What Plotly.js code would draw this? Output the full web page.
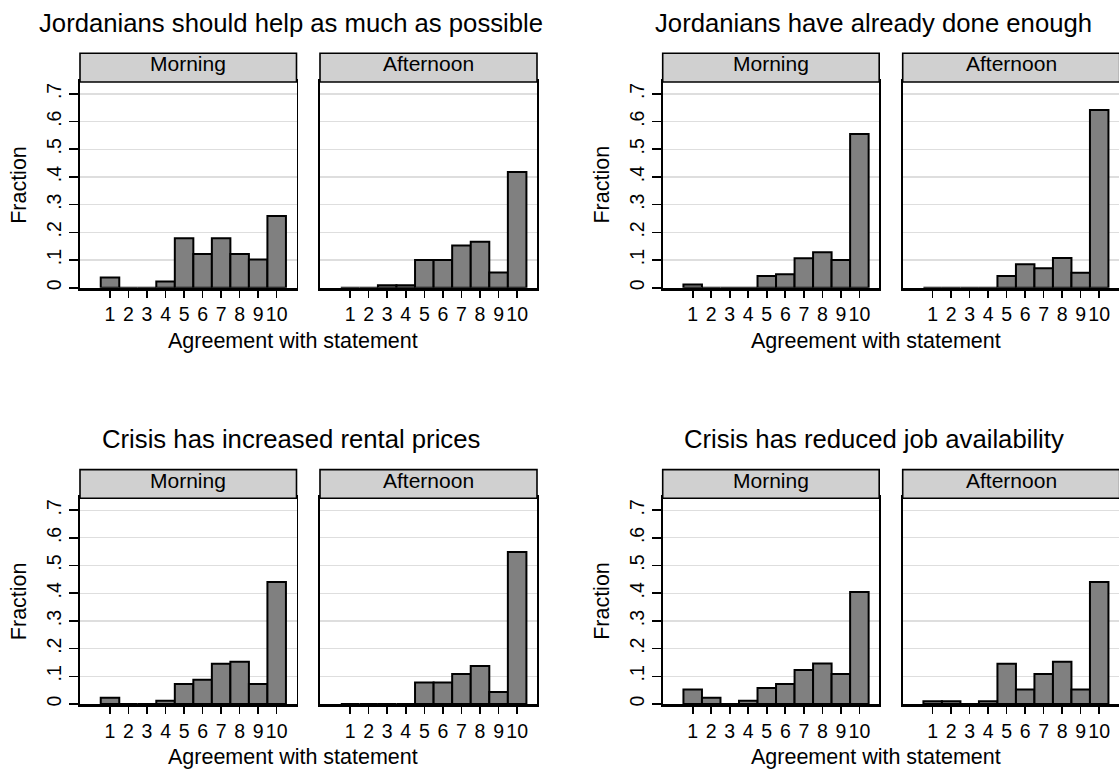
<!DOCTYPE html>
<html>
<head>
<meta charset="utf-8">
<script src="https://cdn.plot.ly/plotly-3.0.1.min.js"></script>
<style>
  html, body { margin: 0; padding: 0; background: #ffffff; }
  #chart { width: 1119px; height: 773px; }
</style>
</head>
<body>
<div id="chart"></div>
<script>
// ---------------- data ----------------
const categories = [1, 2, 3, 4, 5, 6, 7, 8, 9, 10];
const xTickLabels = ['1', '2', '3', '4', '5', '6', '7', '8', '9', '10'];
const yTickValues = [0, 0.1, 0.2, 0.3, 0.4, 0.5, 0.6, 0.7];
const yTickLabels = ['0', '.1', '.2', '.3', '.4', '.5', '.6', '.7'];
const sessions = ['Morning', 'Afternoon'];
const panelTitles = [
  'Jordanians should help as much as possible',
  'Jordanians have already done enough',
  'Crisis has increased rental prices',
  'Crisis has reduced job availability'
];
const xAxisTitle = 'Agreement with statement';
const yAxisTitle = 'Fraction';

const helpMorning    = [0.037, 0, 0, 0.022, 0.179, 0.122, 0.179, 0.122, 0.102, 0.259];
const helpAfternoon  = [0, 0, 0.009, 0.009, 0.100, 0.100, 0.152, 0.166, 0.055, 0.418];
const doneMorning    = [0.012, 0, 0, 0, 0.042, 0.049, 0.106, 0.128, 0.100, 0.555];
const doneAfternoon  = [0, 0, 0, 0, 0.042, 0.085, 0.070, 0.107, 0.054, 0.642];
const rentMorning    = [0.023, 0, 0, 0.012, 0.072, 0.088, 0.145, 0.153, 0.072, 0.441];
const rentAfternoon  = [0, 0, 0, 0, 0.078, 0.078, 0.108, 0.137, 0.043, 0.549];
const jobsMorning    = [0.052, 0.023, 0, 0.012, 0.058, 0.072, 0.123, 0.146, 0.108, 0.405];
const jobsAfternoon  = [0.010, 0.010, 0, 0.010, 0.145, 0.052, 0.108, 0.153, 0.052, 0.441];

const panelSeries = [
  [helpMorning, helpAfternoon],
  [doneMorning, doneAfternoon],
  [rentMorning, rentAfternoon],
  [jobsMorning, jobsAfternoon]
];

// ---------------- layout geometry (pixels) ----------------
const W = 1119, H = 773;
const px = v => v / W;
const py = v => 1 - v / H;
const FONT = '"Liberation Sans", Arial, Helvetica, sans-serif';

const colOffsets = [0, 582.7];
const rowOffsets = [0, 416.3];
const subX = [[80, 296.5], [320, 537]];   // morning / afternoon plot x extents (left column)
const plotTop = 82, plotBottom = 287.7;   // top row
const stripTop = 53.3;
const xRange = [-0.62, 11.07];
const yRange = [0, 0.743];

const traces = [];
const layout = {
  width: W, height: H, autosize: false,
  margin: {l: 0, r: 0, t: 0, b: 0, pad: 0},
  paper_bgcolor: '#ffffff', plot_bgcolor: '#ffffff',
  showlegend: false, bargap: 0,
  font: {family: FONT, color: '#000000'},
  shapes: [], annotations: []
};

let axisIndex = 0;
for (let p = 0; p < 4; p++) {
  const col = p % 2, row = Math.floor(p / 2);
  const ox = colOffsets[col], oy = rowOffsets[row];
  for (let s = 0; s < 2; s++) {
    axisIndex++;
    const xa = 'xaxis' + (axisIndex === 1 ? '' : axisIndex);
    const ya = 'yaxis' + (axisIndex === 1 ? '' : axisIndex);
    const xr = 'x' + (axisIndex === 1 ? '' : axisIndex);
    const yr = 'y' + (axisIndex === 1 ? '' : axisIndex);
    const x0 = subX[s][0] + ox, x1 = subX[s][1] + ox;
    const top = plotTop + oy, bottom = plotBottom + oy;

    traces.push({
      type: 'bar', x: categories, y: panelSeries[p][s],
      xaxis: xr, yaxis: yr, width: 1,
      marker: {color: '#808080', line: {color: '#000000', width: 2}},
      hoverinfo: 'skip'
    });

    layout[xa] = {
      domain: [px(x0), px(x1)], anchor: yr, range: xRange, fixedrange: true,
      tickmode: 'array', tickvals: categories, ticktext: xTickLabels,
      ticks: 'outside', ticklen: 7, tickwidth: 1.6, tickcolor: '#000000',
      tickfont: {family: FONT, size: 19.5, color: '#000000'},
      showline: true, linecolor: '#000000', linewidth: 3.2, mirror: true,
      showgrid: false, zeroline: false
    };
    layout[ya] = {
      domain: [py(bottom), py(top)], anchor: xr, range: yRange, fixedrange: true,
      tickmode: 'array', tickvals: yTickValues, ticktext: yTickLabels,
      tickangle: -90,
      ticks: s === 0 ? 'outside' : '', ticklen: 9, tickwidth: 1.6, tickcolor: '#000000',
      showticklabels: s === 0,
      tickfont: {family: FONT, size: 19.5, color: '#000000'},
      showline: true, linecolor: '#000000', linewidth: 1.8, mirror: true,
      showgrid: true, gridcolor: '#dedede', gridwidth: 1.2, zeroline: false
    };

    // strip header
    layout.shapes.push({
      type: 'rect', xref: 'paper', yref: 'paper',
      x0: px(x0), x1: px(x1), y0: py(top), y1: py(stripTop + oy),
      fillcolor: '#d0d0d0', line: {color: '#000000', width: 1.6}, layer: 'above'
    });
    layout.annotations.push({
      xref: 'paper', yref: 'paper', x: px((x0 + x1) / 2), y: py(stripTop + oy + 10.5),
      xanchor: 'center', yanchor: 'middle', showarrow: false,
      text: sessions[s], font: {family: FONT, size: 21, color: '#000000'}
    });
  }
  // panel title
  layout.annotations.push({
    xref: 'paper', yref: 'paper', x: px(291 + ox), y: py(22.7 + oy),
    xanchor: 'center', yanchor: 'middle', showarrow: false,
    text: panelTitles[p], font: {family: FONT, size: 25.7, color: '#000000'}
  });
  // x-axis title
  layout.annotations.push({
    xref: 'paper', yref: 'paper', x: px(293.3 + ox), y: py(340.7 + oy),
    xanchor: 'center', yanchor: 'middle', showarrow: false,
    text: xAxisTitle, font: {family: FONT, size: 21.5, color: '#000000'}
  });
  // y-axis title
  layout.annotations.push({
    xref: 'paper', yref: 'paper', x: px(19 + ox), y: py((plotTop + plotBottom) / 2 + oy),
    xanchor: 'center', yanchor: 'middle', showarrow: false, textangle: -90,
    text: yAxisTitle, font: {family: FONT, size: 21.5, color: '#000000'}
  });
}

Plotly.newPlot('chart', traces, layout, {displayModeBar: false, staticPlot: true});
</script>
</body>
</html>
